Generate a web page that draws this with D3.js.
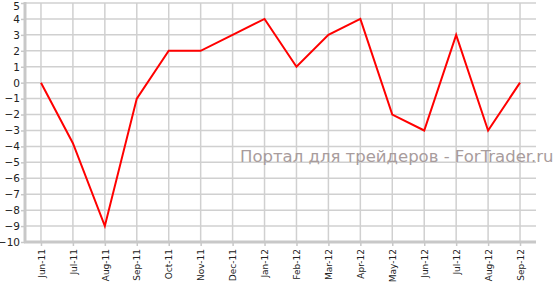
<!DOCTYPE html>
<html>
<head>
<meta charset="utf-8">
<script src="https://cdnjs.cloudflare.com/ajax/libs/d3/7.8.5/d3.min.js"></script>
<style>
    body { margin: 0; background: #fff; }
    svg text { font-family: "DejaVu Sans", Verdana, sans-serif; }
</style>
</head>
<body>
<svg id="chart" width="555" height="290"></svg>
<script>
const months = ["Jun-11", "Jul-11", "Aug-11", "Sep-11", "Oct-11", "Nov-11", "Dec-11", "Jan-12",
    "Feb-12", "Mar-12", "Apr-12", "May-12", "Jun-12", "Jul-12", "Aug-12", "Sep-12"];
const values = [0, -3.8, -9, -1, 2, 2, 3, 4, 1, 3, 4, -2, -3, 3, -3, 0];
const yTicks = d3.range(-10, 6);
const watermark = "Портал для трейдеров - ForTrader.ru";

const svg = d3.select("#chart");
const plotLeft = 25, plotRight = 536, plotTop = 3, plotBottom = 242;

let x = d3.scalePoint()
    .domain(months)
    .range([plotLeft, plotRight])
    .padding(0.5);
let y = d3.scaleLinear()
    .domain([-10, 5])
    .range([plotBottom, plotTop]);

// horizontal grid
svg.append("g")
    .selectAll("line")
    .data(yTicks)
    .enter()
    .append("line")
    .attr("x1", plotLeft)
    .attr("x2", plotRight)
    .attr("y1", d => y(d))
    .attr("y2", d => y(d))
    .attr("stroke", "#d0d0d0")
    .attr("stroke-width", 1.5);

// vertical grid
svg.append("g")
    .selectAll("line")
    .data(months)
    .enter()
    .append("line")
    .attr("x1", d => x(d))
    .attr("x2", d => x(d))
    .attr("y1", plotTop)
    .attr("y2", plotBottom)
    .attr("stroke", "#d0d0d0")
    .attr("stroke-width", 1.5);

// watermark
svg.append("text")
    .attr("x", 240)
    .attr("y", 162)
    .style("font-size", "16.5px")
    .style("fill", "#a89c9c")
    .text(watermark);

// y axis
let yAxis = svg.append("g")
    .attr("transform", `translate(${plotLeft},0)`)
    .call(d3.axisLeft(y).tickValues(yTicks).tickSize(4).tickPadding(1).tickFormat(d3.format("d")));
yAxis.select(".domain").attr("stroke", "#c8c8c8").attr("stroke-width", 3)
    .attr("d", `M0,${plotTop - 1}V${plotBottom + 1}`);
yAxis.selectAll(".tick line").attr("stroke", "#c8c8c8").attr("stroke-width", 1.5);
yAxis.selectAll(".tick text")
    .style("font-size", "10.5px")
    .style("fill", "#222")
    .attr("font-family", null)
    .attr("dy", d => d == 5 ? "0.62em" : "0.32em");

// x axis
let xAxis = svg.append("g")
    .attr("transform", `translate(0,${plotBottom})`)
    .call(d3.axisBottom(x).tickSize(4).tickSizeOuter(0));
xAxis.select(".domain").attr("stroke", "#c8c8c8").attr("stroke-width", 3)
    .attr("d", `M${plotLeft - 1},0H${plotRight}`);
xAxis.selectAll(".tick line").attr("stroke", "#c8c8c8").attr("stroke-width", 1.5);
xAxis.selectAll(".tick text")
    .style("font-size", "9px")
    .style("fill", "#222")
    .attr("font-family", null)
    .attr("transform", "rotate(-90)")
    .attr("text-anchor", "end")
    .attr("x", -7)
    .attr("y", 0)
    .attr("dy", "0.35em");

// series line
let line = d3.line()
    .x((d, i) => x(months[i]))
    .y(d => y(d));
svg.append("path")
    .datum(values)
    .attr("d", line)
    .attr("fill", "none")
    .attr("stroke", "#f00")
    .attr("stroke-width", 2);
</script>
</body>
</html>
